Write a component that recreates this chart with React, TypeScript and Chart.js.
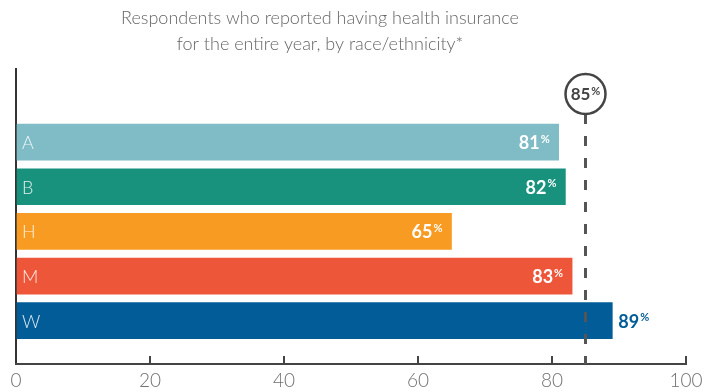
import React, { useEffect, useRef } from "react";
import { Chart, registerables } from "chart.js";

Chart.register(...registerables);

const titleLines = [
  "Respondents who reported having health insurance",
  "for the entire year, by race/ethnicity*",
];
const categories = ["A", "B", "H", "M", "W"];
const values = [81, 82, 65, 83, 89];
const barColors = ["#7FBCC6", "#18917D", "#F89B23", "#EE5639", "#015C97"];
const target = 85;
const xMin = 0;
const xMax = 100;
const xStep = 20;

const FONT = "Lato, 'Open Sans', sans-serif";

function drawPct(ctx: CanvasRenderingContext2D, num: string, x: number, y: number, align: "left" | "right" | "center", color: string, bigSize: number, smallSize: number) {
  ctx.save();
  ctx.fillStyle = color;
  ctx.textBaseline = "middle";
  ctx.font = `bold ${bigSize}px ${FONT}`;
  const wNum = ctx.measureText(num).width;
  ctx.font = `bold ${smallSize}px ${FONT}`;
  const wPct = ctx.measureText("%").width;
  const total = wNum + 1 + wPct;
  let left = x;
  if (align === "right") left = x - total;
  if (align === "center") left = x - total / 2;
  ctx.textAlign = "left";
  ctx.font = `bold ${bigSize}px ${FONT}`;
  ctx.fillText(num, left, y);
  ctx.font = `bold ${smallSize}px ${FONT}`;
  ctx.fillText("%", left + wNum + 1, y - bigSize * 0.22);
  ctx.restore();
}

const overlayPlugin = {
  id: "overlay",
  afterDraw(chart: any) {
    const ctx: CanvasRenderingContext2D = chart.ctx;
    const area = chart.chartArea;
    const xs = chart.scales.x;

    // title
    ctx.save();
    ctx.fillStyle = "#666";
    ctx.font = `300 18px ${FONT}`;
    ctx.textAlign = "center";
    ctx.textBaseline = "middle";
    titleLines.forEach((t, i) => ctx.fillText(t, 320, 18 + i * 26));
    ctx.restore();

    // upward tick marks
    ctx.save();
    ctx.strokeStyle = "#444";
    ctx.lineWidth = 2;
    xs.ticks.forEach((t: any) => {
      if (t.value === xMin) return;
      const px = Math.round(xs.getPixelForValue(t.value));
      ctx.beginPath();
      ctx.moveTo(px, area.bottom);
      ctx.lineTo(px, area.bottom - 8);
      ctx.stroke();
    });
    ctx.restore();

    // target line + circle
    const tx = xs.getPixelForValue(target);
    const cy = area.top + 26;
    const r = 20;
    ctx.save();
    ctx.strokeStyle = "#555";
    ctx.lineWidth = 3;
    ctx.setLineDash([10, 12]);
    ctx.beginPath();
    ctx.moveTo(tx, cy + r);
    ctx.lineTo(tx, area.bottom);
    ctx.stroke();
    ctx.setLineDash([]);
    ctx.beginPath();
    ctx.arc(tx, cy, r, 0, Math.PI * 2);
    ctx.fillStyle = "#fff";
    ctx.fill();
    ctx.strokeStyle = "#444";
    ctx.lineWidth = 2.5;
    ctx.stroke();
    ctx.restore();
    drawPct(ctx, String(target), tx, cy + 1, "center", "#444", 17, 11);

    // bar labels
    const meta = chart.getDatasetMeta(0);
    meta.data.forEach((bar: any, i: number) => {
      ctx.save();
      ctx.fillStyle = "rgba(255,255,255,0.85)";
      ctx.font = `300 18px ${FONT}`;
      ctx.textAlign = "left";
      ctx.textBaseline = "middle";
      ctx.fillText(categories[i], area.left + 6, bar.y + 1);
      ctx.restore();
      const v = values[i];
      if (v > target) {
        drawPct(ctx, String(v), bar.x + 6, bar.y + 1, "left", barColors[i], 18, 11);
      } else {
        drawPct(ctx, String(v), bar.x - 9, bar.y + 1, "right", "#fff", 18, 11);
      }
    });
  },
};

export default function App() {
  const ref = useRef<HTMLCanvasElement | null>(null);
  useEffect(() => {
    document.body.style.margin = "0";
    const canvas = ref.current;
    if (!canvas) return;
    const chart = new Chart(canvas, {
      type: "bar",
      data: {
        datasets: [
          {
            data: values.map((v, i) => ({ x: v, y: i })) as any,
            backgroundColor: barColors,
            borderWidth: 0,
            barThickness: 36,
          },
        ],
      },
      options: {
        indexAxis: "y",
        animation: false,
        responsive: true,
        maintainAspectRatio: false,
        layout: { padding: { top: 68, left: 16, right: 29, bottom: -5 } },
        plugins: {
          legend: { display: false },
          tooltip: { enabled: false },
          title: { display: false },
        },
        scales: {
          x: {
            type: "linear",
            min: xMin,
            max: xMax,
            ticks: {
              stepSize: xStep,
              color: "#707070",
              padding: 7,
              font: { family: FONT, size: 19, weight: "300" as any, lineHeight: 1 },
            },
            grid: {
              drawTicks: false,
              drawOnChartArea: true,
              lineWidth: 2,
              color: (c: any) => (c.tick && c.tick.value === xMin ? "#333" : "rgba(0,0,0,0)"),
            },
            border: { display: true, color: "#444", width: 2 },
          },
          y: {
            type: "linear",
            reverse: true,
            offset: false,
            min: -1.66,
            max: 4.97,
            display: false,
            grid: { offset: false },
          },
        },
      },
      plugins: [overlayPlugin],
    });
    return () => chart.destroy();
  }, []);
  return (
    <div style={{ position: "fixed", left: 0, top: 0, width: 715, height: 392, background: "#fff" }}>
      <canvas ref={ref} />
    </div>
  );
}
